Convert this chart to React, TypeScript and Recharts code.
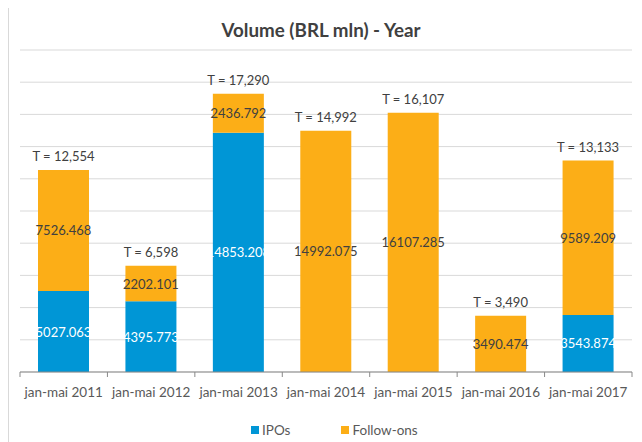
import React from 'react';
import { BarChart, Bar, XAxis, YAxis, CartesianGrid, Legend, LabelList } from 'recharts';

const categories = ['jan-mai 2011', 'jan-mai 2012', 'jan-mai 2013', 'jan-mai 2014', 'jan-mai 2015', 'jan-mai 2016', 'jan-mai 2017'];
const ipos = [5027.063, 4395.773, 14853.208, 0, 0, 0, 3543.874];
const followOns = [7526.468, 2202.101, 2436.792, 14992.075, 16107.285, 3490.474, 9589.209];
const yTicks = [0, 2000, 4000, 6000, 8000, 10000, 12000, 14000, 16000, 18000, 20000];

const data = categories.map((cat, i) => ({ cat, ipos: ipos[i], followOns: followOns[i] }));

const W = 631;
const H = 434;
const MARGIN = { top: 43, right: 8, left: 11, bottom: 39 };
const BAND = (W - MARGIN.left - MARGIN.right) / categories.length;

const BLUE = '#0096d6';
const ORANGE = '#fcae17';
const TEXT = '#404040';
const AXIS_TEXT = '#595959';

function CategoryTick(props: any) {
  const { x, y, payload, index } = props;
  const left = x - BAND / 2;
  return (
    <g>
      <line x1={left} x2={left} y1={y} y2={y + 5} stroke="#898989" />
      {index === categories.length - 1 && (
        <line x1={left + BAND} x2={left + BAND} y1={y} y2={y + 5} stroke="#898989" />
      )}
      <text x={x} y={y + 20} textAnchor="middle" dominantBaseline="central" fill={AXIS_TEXT} fontSize={13.5}>
        {payload.value}
      </text>
    </g>
  );
}

function valueLabel(color: string) {
  return (props: any) => {
    const { x, y, width, height, value } = props;
    if (!value) return null;
    return (
      <text x={x + width / 2} y={y + height / 2} textAnchor="middle" dominantBaseline="central" fill={color} fontSize={13}>
        {String(value)}
      </text>
    );
  };
}

function TotalLabel(props: any) {
  const { x, y, width, index } = props;
  const total = Math.round(ipos[index] + followOns[index]);
  return (
    <text x={x + width / 2} y={y - 14} textAnchor="middle" dominantBaseline="central" fill={TEXT} fontSize={13}>
      {'T = ' + total.toLocaleString('en-US')}
    </text>
  );
}

function LegendContent() {
  const item = (color: string, label: string, mr: number) => (
    <span style={{ display: 'inline-flex', alignItems: 'center', marginRight: mr }}>
      <span style={{ width: 8, height: 8, background: color, marginRight: 3, display: 'inline-block' }} />
      <span style={{ color: AXIS_TEXT, fontSize: 13.5 }}>{label}</span>
    </span>
  );
  return (
    <div style={{ paddingLeft: 242, display: 'flex', alignItems: 'center', lineHeight: '16px' }}>
      {item(BLUE, 'IPOs', 51)}
      {item(ORANGE, 'Follow-ons', 0)}
    </div>
  );
}

export default function App() {
  return (
    <div
      style={{
        marginTop: -2,
        width: W + 2,
        height: H + 2,
        border: '1px solid #d9d9d9',
        fontFamily: 'Lato, sans-serif',
        background: '#fff',
      }}
    >
      <BarChart width={W} height={H} data={data} margin={MARGIN}>
        <text x={312} y={22} textAnchor="middle" dominantBaseline="central" fontWeight="bold" fontSize={18.8} fill={TEXT}>
          Volume (BRL mln) - Year
        </text>
        <CartesianGrid vertical={false} stroke="#d9d9d9" />
        <YAxis hide domain={[0, 20000]} ticks={yTicks} />
        <XAxis
          dataKey="cat"
          height={30}
          tickSize={0}
          tickMargin={0}
          tickLine={false}
          axisLine={{ stroke: '#898989' }}
          tick={<CategoryTick />}
          interval={0}
        />
        <Legend
          verticalAlign="middle"
          layout="horizontal"
          content={<LegendContent />}
          wrapperStyle={{ top: 415, left: 0, width: W }}
        />
        <Bar dataKey="ipos" name="IPOs" stackId="a" fill={BLUE} barSize={51} isAnimationActive={false}>
          <LabelList dataKey="ipos" content={valueLabel('#ffffff')} />
        </Bar>
        <Bar dataKey="followOns" name="Follow-ons" stackId="a" fill={ORANGE} barSize={51} isAnimationActive={false}>
          <LabelList dataKey="followOns" content={valueLabel(TEXT)} />
          <LabelList dataKey="followOns" content={<TotalLabel />} />
        </Bar>
      </BarChart>
    </div>
  );
}
